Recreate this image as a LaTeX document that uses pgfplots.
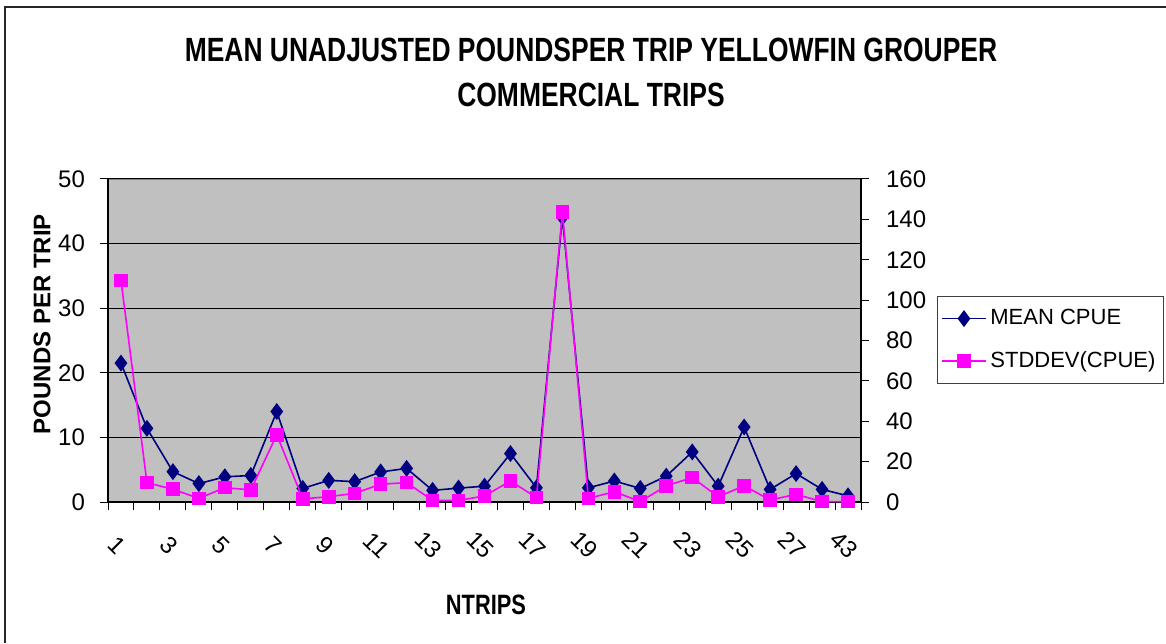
\documentclass[border=0pt]{standalone}
\usepackage{fontspec}
\setmainfont{Liberation Sans}
\usepackage{pgfplots}
\pgfplotsset{compat=1.18}
\usepackage{graphicx}

\definecolor{plotgray}{HTML}{C0C0C0}
\definecolor{meanblue}{HTML}{000080}
\definecolor{sdpink}{HTML}{FF00FF}

% mean CPUE (left axis) and its standard deviation (right axis), 29 categories
\pgfplotstableread{
idx mean sd
0  21.5  109.8
1  11.4  9.6
2  4.7   6.3
3  2.85  1.8
4  3.9   7.1
5  4.1   6.0
6  14.0  33.3
7  2.1   1.6
8  3.35  2.6
9  3.15  4.3
10 4.65  8.8
11 5.2   9.6
12 1.8   0.8
13 2.15  0.8
14 2.45  3.0
15 7.5   10.4
16 2.2   2.2
17 44.1  143.7
18 2.2   1.8
19 3.25  5.1
20 2.1   0.2
21 4.0   8.0
22 7.75  12.1
23 2.45  2.6
24 11.6  8.0
25 1.95  1.0
26 4.4   3.8
27 1.95  0.2
28 0.95  0.2
}\cpue

\pgfplotsset{
  common/.style={
    scale only axis,
    width=376.5pt, height=161.5pt,
    at={(54pt,70.5pt)}, anchor=south west,
    xmin=-0.5, xmax=28.5,
    tick align=outside,
    major tick length=4pt,
    tick style={black, line width=0.5pt},
    /pgf/number format/assume math mode=true,
    tick label style={font=\fontsize{12}{14}\selectfont},
  },
  meanstyle/.style={meanblue, line width=0.8pt, mark=diamond*, mark size=3.6pt,
    mark options={fill=meanblue, draw=meanblue, solid}},
  sdstyle/.style={sdpink, line width=0.8pt, mark=square*, mark size=3pt,
    mark options={fill=sdpink, draw=sdpink, solid}},
}

\begin{document}
\begin{tikzpicture}
\useasboundingbox (0,0) rectangle (583pt,321.5pt);
% chart-area border (top and left only)
\draw[line width=1pt, black!85] (2.5pt,0) -- (2.5pt,318pt) -- (583pt,318pt);

\begin{axis}[common,
  axis x line*=bottom, axis y line*=left,
  axis line style={black, line width=0.6pt},
  axis background/.style={fill=plotgray, draw=black!50},
  ymin=0, ymax=50, ytick={0,10,...,50},
  ymajorgrids, grid style={black, line width=0.5pt},
  yticklabel style={xshift=-4pt},
  xtick={-0.5,0.5,...,28.5}, xticklabels={},
  extra x ticks={0,2,...,28},
  extra x tick labels={1,3,5,7,9,11,13,15,17,19,21,23,25,27,43},
  extra x tick style={major tick length=0pt, grid=none,
    xticklabel style={anchor=center, yshift=-21.5pt, xshift=-2pt, rotate=-45}},
]
\addplot[meanstyle] table[x=idx, y=mean] {\cpue};
\end{axis}

\begin{axis}[common,
  axis x line=none, axis y line*=right,
  axis line style={black, line width=0.6pt},
  ymin=0, ymax=160, ytick={0,20,...,160},
  yticklabel style={xshift=5pt},
  legend style={at={(1.101,0.638)}, anchor=north west, draw=black!75,
    line width=0.5pt, font=\fontsize{11}{13}\selectfont, inner xsep=2pt,
    inner ysep=4.5pt, row sep=8pt, cells={anchor=west}},
  legend image code/.code={\draw[mark repeat=2, mark phase=2]
    plot coordinates {(0cm,0cm) (0.38cm,0cm) (0.76cm,0cm)};},
]
\addlegendimage{meanstyle}
\addlegendentry{MEAN CPUE}
\addplot[sdstyle] table[x=idx, y=sd] {\cpue};
\addlegendentry{STDDEV(CPUE)}
\end{axis}

% title, axis titles
\node[font=\bfseries\fontsize{16.8}{18}\selectfont] at (295.5pt,296.5pt)
  {\scalebox{0.787}[1]{MEAN UNADJUSTED POUNDSPER TRIP YELLOWFIN GROUPER}};
\node[font=\bfseries\fontsize{16.8}{18}\selectfont] at (295.5pt,274pt)
  {\scalebox{0.787}[1]{COMMERCIAL TRIPS}};
\node[font=\bfseries\fontsize{12}{14}\selectfont, rotate=90] at (21pt,159.5pt)
  {POUNDS PER TRIP};
\node[font=\bfseries\fontsize{14}{16}\selectfont] at (243pt,19pt)
  {\scalebox{0.78}[1]{NTRIPS}};
\end{tikzpicture}
\end{document}
